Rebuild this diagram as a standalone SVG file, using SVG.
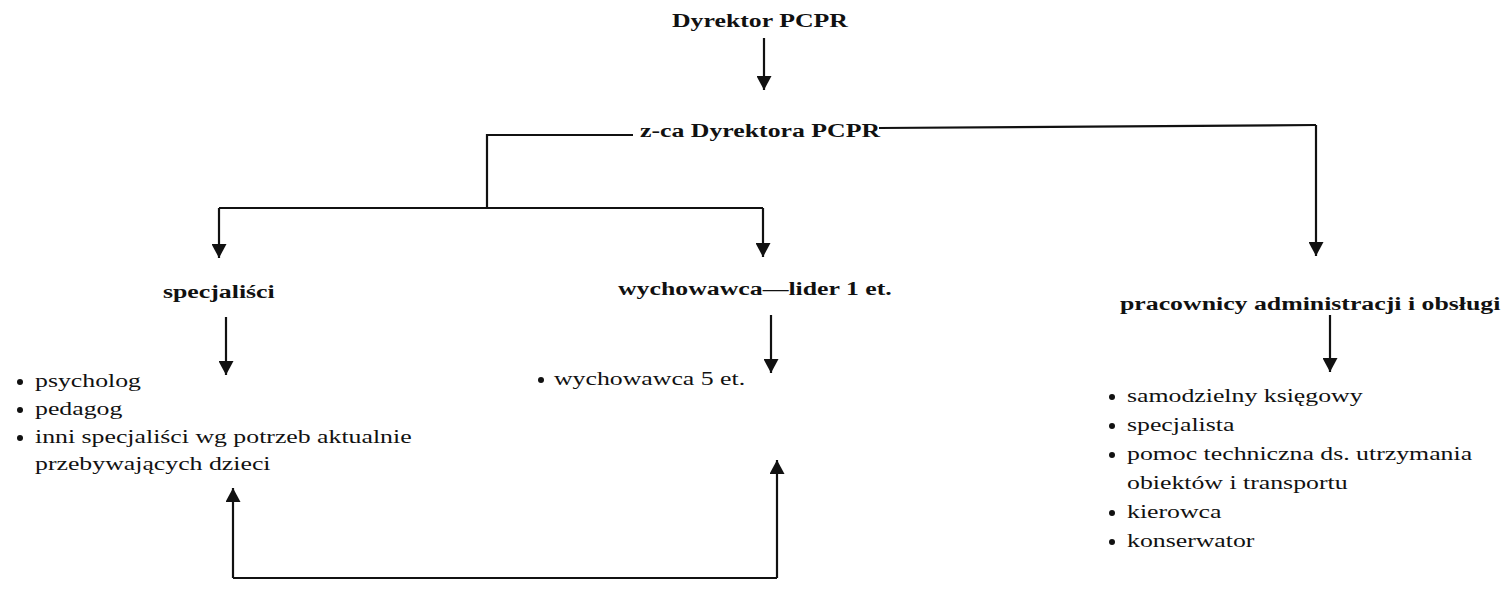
<svg xmlns="http://www.w3.org/2000/svg" width="1506" height="609" viewBox="0 0 1506 609">
<defs>
<marker id="ah" markerUnits="userSpaceOnUse" markerWidth="14" markerHeight="15" refX="14" refY="7.5" orient="auto" viewBox="0 0 14 15">
<path d="M0,0 L14,7.5 L0,15 z" fill="#111"/>
</marker>
<style>
.b{font-family:"Liberation Serif","Times New Roman",serif;font-weight:bold;font-size:18.7px;fill:#111}
.r{font-family:"Liberation Serif","Times New Roman",serif;font-size:18.7px;fill:#111}
.ln{fill:none;stroke:#111;stroke-width:2.2}
.ar{fill:none;stroke:#111;stroke-width:2.2;marker-end:url(#ah)}
.dot{fill:#111}
</style>
</defs>
<rect width="1506" height="609" fill="#fff"/>
<g id="connectors">
<path class="ar" d="M764,38 V90"/>
<path class="ln" d="M633,135 H487 V208"/>
<path class="ln" d="M219,208 H763"/>
<path class="ar" d="M219,208 V258"/>
<path class="ar" d="M763,208 V257"/>
<path class="ln" d="M879,128 L1316,125"/>
<path class="ar" d="M1316,125 V256"/>
<path class="ar" d="M226,317 V375"/>
<path class="ar" d="M771,315 V373"/>
<path class="ar" d="M1330,315 V372"/>
<path class="ln" d="M233,578 H777"/>
<path class="ar" d="M233,578 V488"/>
<path class="ar" d="M777,578 V460"/>
</g>
<g id="dyrektor">
<text class="b" transform="translate(672 27) scale(1.38 1)">Dyrektor PCPR</text>
</g>
<g id="zastepca">
<text class="b" transform="translate(640 137) scale(1.38 1)">z-ca Dyrektora PCPR</text>
</g>
<g id="specjalisci">
<text class="b" transform="translate(163 298) scale(1.38 1)">specjaliści</text>
</g>
<g id="wychowawca-lider">
<text class="b" transform="translate(618 295) scale(1.38 1)">wychowawca—lider 1 et.</text>
</g>
<g id="pracownicy">
<text class="b" transform="translate(1120 310) scale(1.38 1)">pracownicy administracji i obsługi</text>
</g>
<g id="lista-specjalisci">
<circle class="dot" cx="20" cy="382" r="3"/>
<text class="r" transform="translate(35 387) scale(1.38 1)">psycholog</text>
<circle class="dot" cx="20" cy="410" r="3"/>
<text class="r" transform="translate(35 415) scale(1.38 1)">pedagog</text>
<circle class="dot" cx="20" cy="438" r="3"/>
<text class="r" transform="translate(35 443) scale(1.38 1)">inni specjaliści wg potrzeb aktualnie</text>
<text class="r" transform="translate(35 470) scale(1.38 1)">przebywających dzieci</text>
</g>
<g id="lista-wychowawcy">
<circle class="dot" cx="541" cy="380" r="3"/>
<text class="r" transform="translate(554 385) scale(1.38 1)">wychowawca 5 et.</text>
</g>
<g id="lista-pracownicy">
<circle class="dot" cx="1112" cy="397" r="3"/>
<text class="r" transform="translate(1127 402) scale(1.38 1)">samodzielny księgowy</text>
<circle class="dot" cx="1112" cy="426" r="3"/>
<text class="r" transform="translate(1127 431) scale(1.38 1)">specjalista</text>
<circle class="dot" cx="1112" cy="455" r="3"/>
<text class="r" transform="translate(1127 460) scale(1.38 1)">pomoc techniczna ds. utrzymania</text>
<text class="r" transform="translate(1127 489) scale(1.38 1)">obiektów i transportu</text>
<circle class="dot" cx="1112" cy="513" r="3"/>
<text class="r" transform="translate(1127 518) scale(1.38 1)">kierowca</text>
<circle class="dot" cx="1112" cy="542" r="3"/>
<text class="r" transform="translate(1127 547) scale(1.38 1)">konserwator</text>
</g>
</svg>
